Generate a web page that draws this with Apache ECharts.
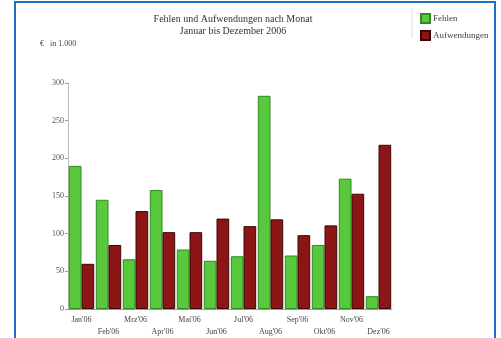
<!DOCTYPE html>
<html>
<head>
<meta charset="utf-8">
<script src="https://cdn.jsdelivr.net/npm/echarts@6/dist/echarts.min.js"></script>
<style>
  html, body { margin: 0; padding: 0; background: #fff; }
  #chart { width: 501px; height: 338px; }
</style>
</head>
<body>
<div id="chart"></div>
<script>
// Fehlen und Aufwendungen nach Monat 2006
const months = ["Jan'06", "Feb'06", "Mrz'06", "Apr'06", "Mai'06", "Jun'06",
  "Jul'06", "Aug'06", "Sep'06", "Okt'06", "Nov'06", "Dez'06"];
const fehlen = [190, 145, 66, 158, 79, 64, 70, 283, 71, 85, 173, 17];
const aufwendungen = [60, 85, 130, 102, 102, 120, 110, 119, 98, 111, 153, 218];
const yTicks = [0, 50, 100, 150, 200, 250, 300];

const font = "Liberation Serif";
const chart = echarts.init(document.getElementById("chart"));

const option = {
  backgroundColor: "#fff",
  animation: false,
  title: {
    text: "Fehlen und Aufwendungen nach Monat\nJanuar bis Dezember 2006",
    left: 228,
    top: 8,
    textAlign: "center",
    textStyle: { fontFamily: font, fontSize: 10, fontWeight: "normal", color: "#333", lineHeight: 12 },
  },
  legend: {
    orient: "vertical",
    left: 415,
    top: 8,
    itemWidth: 9,
    itemHeight: 9,
    itemGap: 6,
    icon: "rect",
    textStyle: { fontFamily: font, fontSize: 9, color: "#444", padding: [0, 0, 0, -2] },
    data: ["Fehlen", "Aufwendungen"],
  },
  grid: { left: 68, right: 109, top: 83, bottom: 28 },
  xAxis: {
    type: "category",
    data: months,
    axisTick: { show: false },
    axisLine: { lineStyle: { color: "#999", width: 1 } },
    axisLabel: {
      interval: 0,
      fontFamily: font,
      fontSize: 8,
      color: "#444",
      margin: 5,
      lineHeight: 12,
      formatter: (v, i) => (i % 2 ? "\n" + v : v),
    },
  },
  yAxis: {
    type: "value",
    min: yTicks[0],
    max: yTicks[yTicks.length - 1],
    interval: 50,
    splitLine: { show: false },
    axisLine: { show: true, lineStyle: { color: "#bbb" } },
    axisTick: { show: true, length: 3, lineStyle: { color: "#999" } },
    axisLabel: { fontFamily: font, fontSize: 8, color: "#555", margin: 4 },
  },
  series: [
    {
      name: "Fehlen",
      type: "bar",
      data: fehlen,
      barGap: "0%",
      barCategoryGap: "6%",
      itemStyle: { color: "#58c83c", borderColor: "#2f8a22", borderWidth: 1 },
    },
    {
      name: "Aufwendungen",
      type: "bar",
      data: aufwendungen,
      itemStyle: { color: "#8c1616", borderColor: "#3a0606", borderWidth: 1 },
    },
  ],
  graphic: [
    {
      type: "rect",
      shape: { x: 15, y: 2, width: 480, height: 345 },
      style: { fill: null, stroke: "#1f6fc2", lineWidth: 2 },
      silent: true,
    },
    {
      type: "line",
      shape: { x1: 412, y1: 8, x2: 412, y2: 38 },
      style: { stroke: "#ddd", lineWidth: 1 },
      silent: true,
    },
    {
      type: "text",
      left: 40,
      top: 40,
      style: { text: "€   in 1.000", fontFamily: font, fontSize: 8, fill: "#444" },
    },
  ],
};

chart.setOption(option);
</script>
</body>
</html>
